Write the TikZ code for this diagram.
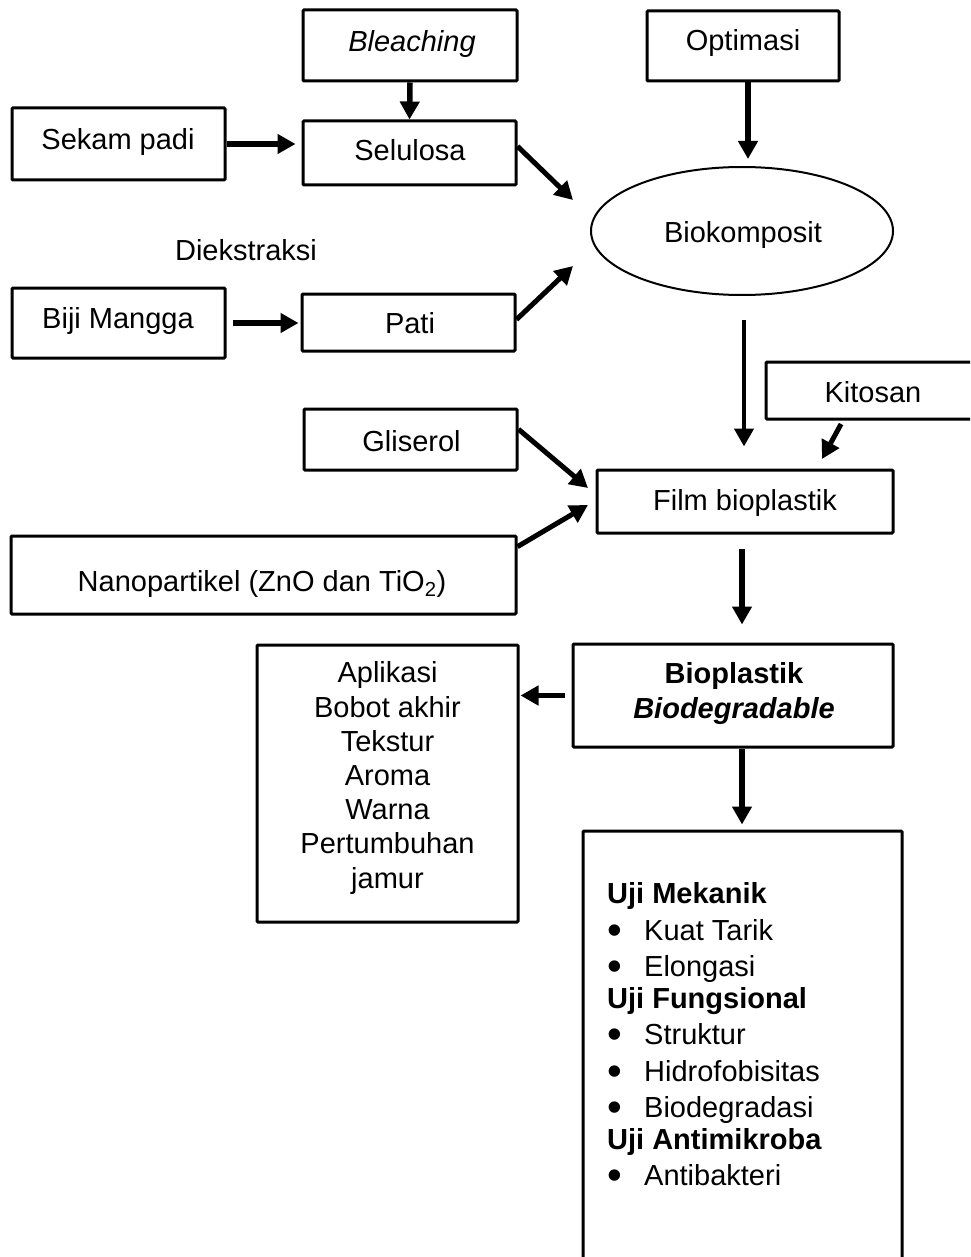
\documentclass[tikz,border=0pt]{standalone}
\usepackage{fontspec}
\setmainfont{Liberation Sans}
\usetikzlibrary{arrows.meta,shapes.geometric,calc}

% bullet item for the test list
\newcommand\listitem[1]{\makebox[37pt][l]{\raisebox{-4pt}{\scalebox{1.45}{\textbullet}}}#1}

\begin{document}
\begin{tikzpicture}[x=1pt,y=-1pt,
  box/.style={draw, line width=3pt, rounded corners=1pt, inner sep=0pt},
  txt/.style={inner sep=0pt, anchor=base, font=\fontsize{29}{34.2}\selectfont},
  arr/.style={line width=5.5pt, -{Triangle[length=18pt,width=19pt]}},
]
\useasboundingbox (0,0) rectangle (970,1257);
\clip (0,0) rectangle (970,1257);

% ---- boxes ----
\node[box, minimum width=214, minimum height=71] (bleach) at (410,45.5) {};
\node[txt] (bleachT) at (412,52) {\itshape Bleaching};

\node[box, minimum width=192, minimum height=70] (optim) at (743,46) {};
\node[txt] (optimT) at (743,51) {Optimasi};

\node[box, minimum width=213, minimum height=72] (sekam) at (118.5,144) {};
\node[txt] (sekamT) at (118,150) {Sekam padi};

\node[box, minimum width=213, minimum height=64] (selulosa) at (409.5,153) {};
\node[txt] (selulosaT) at (410,161) {Selulosa};

\node[draw, ellipse, line width=2pt, inner sep=0pt, minimum width=302, minimum height=128] (bio) at (742,231) {};
\node[txt] (bioT) at (743,243) {Biokomposit};

\node[txt] (ekstrak) at (246,261) {Diekstraksi};

\node[box, minimum width=213, minimum height=70] (biji) at (118.5,323) {};
\node[txt] (bijiT) at (118,328) {Biji Mangga};

\node[box, minimum width=213, minimum height=57] (pati) at (408.5,322.5) {};
\node[txt] (patiT) at (410,333) {Pati};

\node[box, minimum width=234, minimum height=57] (kitosan) at (883,390.5) {};
\node[txt] (kitosanT) at (873,402) {Kitosan};

\node[box, minimum width=213, minimum height=61] (gliserol) at (410.5,439.5) {};
\node[txt] (gliserolT) at (411.5,451) {Gliserol};

\node[box, minimum width=505, minimum height=78] (nano) at (263.5,575) {};
\node[txt] (nanoT) at (262,591) {Nanopartikel (ZnO dan TiO\textsubscript{2})};

\node[box, minimum width=296, minimum height=63] (film) at (745,501.5) {};
\node[txt] (filmT) at (745,510) {Film bioplastik};

% multi-line texts are placed by the baseline of their last line
\node[box, minimum width=320, minimum height=103] (bioplastik) at (733,695.5) {};
\node[txt, align=center, font=\fontsize{29}{35}\selectfont\bfseries] (bioplastikT) at (734,718)
  {Bioplastik\\\itshape Biodegradable};

\node[box, minimum width=261, minimum height=277] (aplikasi) at (387.5,783.5) {};
\node[txt, align=center] (aplikasiT) at (387.5,888)
  {Aplikasi\\Bobot akhir\\Tekstur\\Aroma\\Warna\\Pertumbuhan\\jamur};

\node[box, minimum width=319, minimum height=469] (uji) at (742.5,1065.5) {};
\node[txt, anchor=base west, align=left, font=\fontsize{29}{32}\selectfont] (ujiT) at (607,1185)
  {\textbf{Uji Mekanik}\\[5pt]
   \listitem{Kuat Tarik}\\[4pt]
   \listitem{Elongasi}\\
   \textbf{Uji Fungsional}\\[4pt]
   \listitem{Struktur}\\[5pt]
   \listitem{Hidrofobisitas}\\[4pt]
   \listitem{Biodegradasi}\\
   \textbf{Uji Antimikroba}\\[4pt]
   \listitem{Antibakteri}};

% ---- arrow ends that stop short of a shape ----
\coordinate (bioInA) at (573,200);
\coordinate (bioInB) at (573,266);
\coordinate (filmInA) at (588,488);
\coordinate (filmInB) at (588,505);
\coordinate (filmInC) at (822,459);

% ---- connectors ----
\draw[arr] (bleach.south) -- (selulosa.north);
\draw[arr, shorten >=6pt] (sekam.east) -- (sekam.east -| selulosa.west);
\draw[arr, shorten <=6pt, shorten >=2pt] (biji.east) -- (biji.east -| pati.west);
\draw[arr, shorten >=7pt] ([xshift=5pt]optim.south) -- ([xshift=5pt]optim.south |- bio.north);
\draw[arr, line width=5pt] ($(selulosa.north east)!0.4!(selulosa.south east)$) -- (bioInA);
\draw[arr, line width=5pt] ($(pati.north east)!0.45!(pati.south east)$) -- (bioInB);
\draw[arr, line width=4.5pt, shorten <=24pt, shorten >=22pt] ([xshift=2pt]bio.south) -- ([xshift=2pt]bio.south |- film.north);
\draw[arr, line width=5pt, shorten <=4pt] ([xshift=-40pt]kitosan.south) -- (filmInC);
\draw[arr, line width=5pt] ($(gliserol.north east)!0.34!(gliserol.south east)$) -- (filmInA);
\draw[arr, line width=5pt] ($(nano.north east)!0.15!(nano.south east)$) -- (filmInB);
\draw[arr, shorten <=14pt, shorten >=18pt] ([xshift=-3pt]film.south) -- ([xshift=-3pt]film.south |- bioplastik.north);
\draw[arr, shorten <=7pt, shorten >=1pt] (bioplastik.west) -- (bioplastik.west -| aplikasi.east);
\draw[arr, shorten >=5pt] ([xshift=9pt]bioplastik.south) -- ([xshift=9pt]bioplastik.south |- uji.north);
\end{tikzpicture}
\end{document}
